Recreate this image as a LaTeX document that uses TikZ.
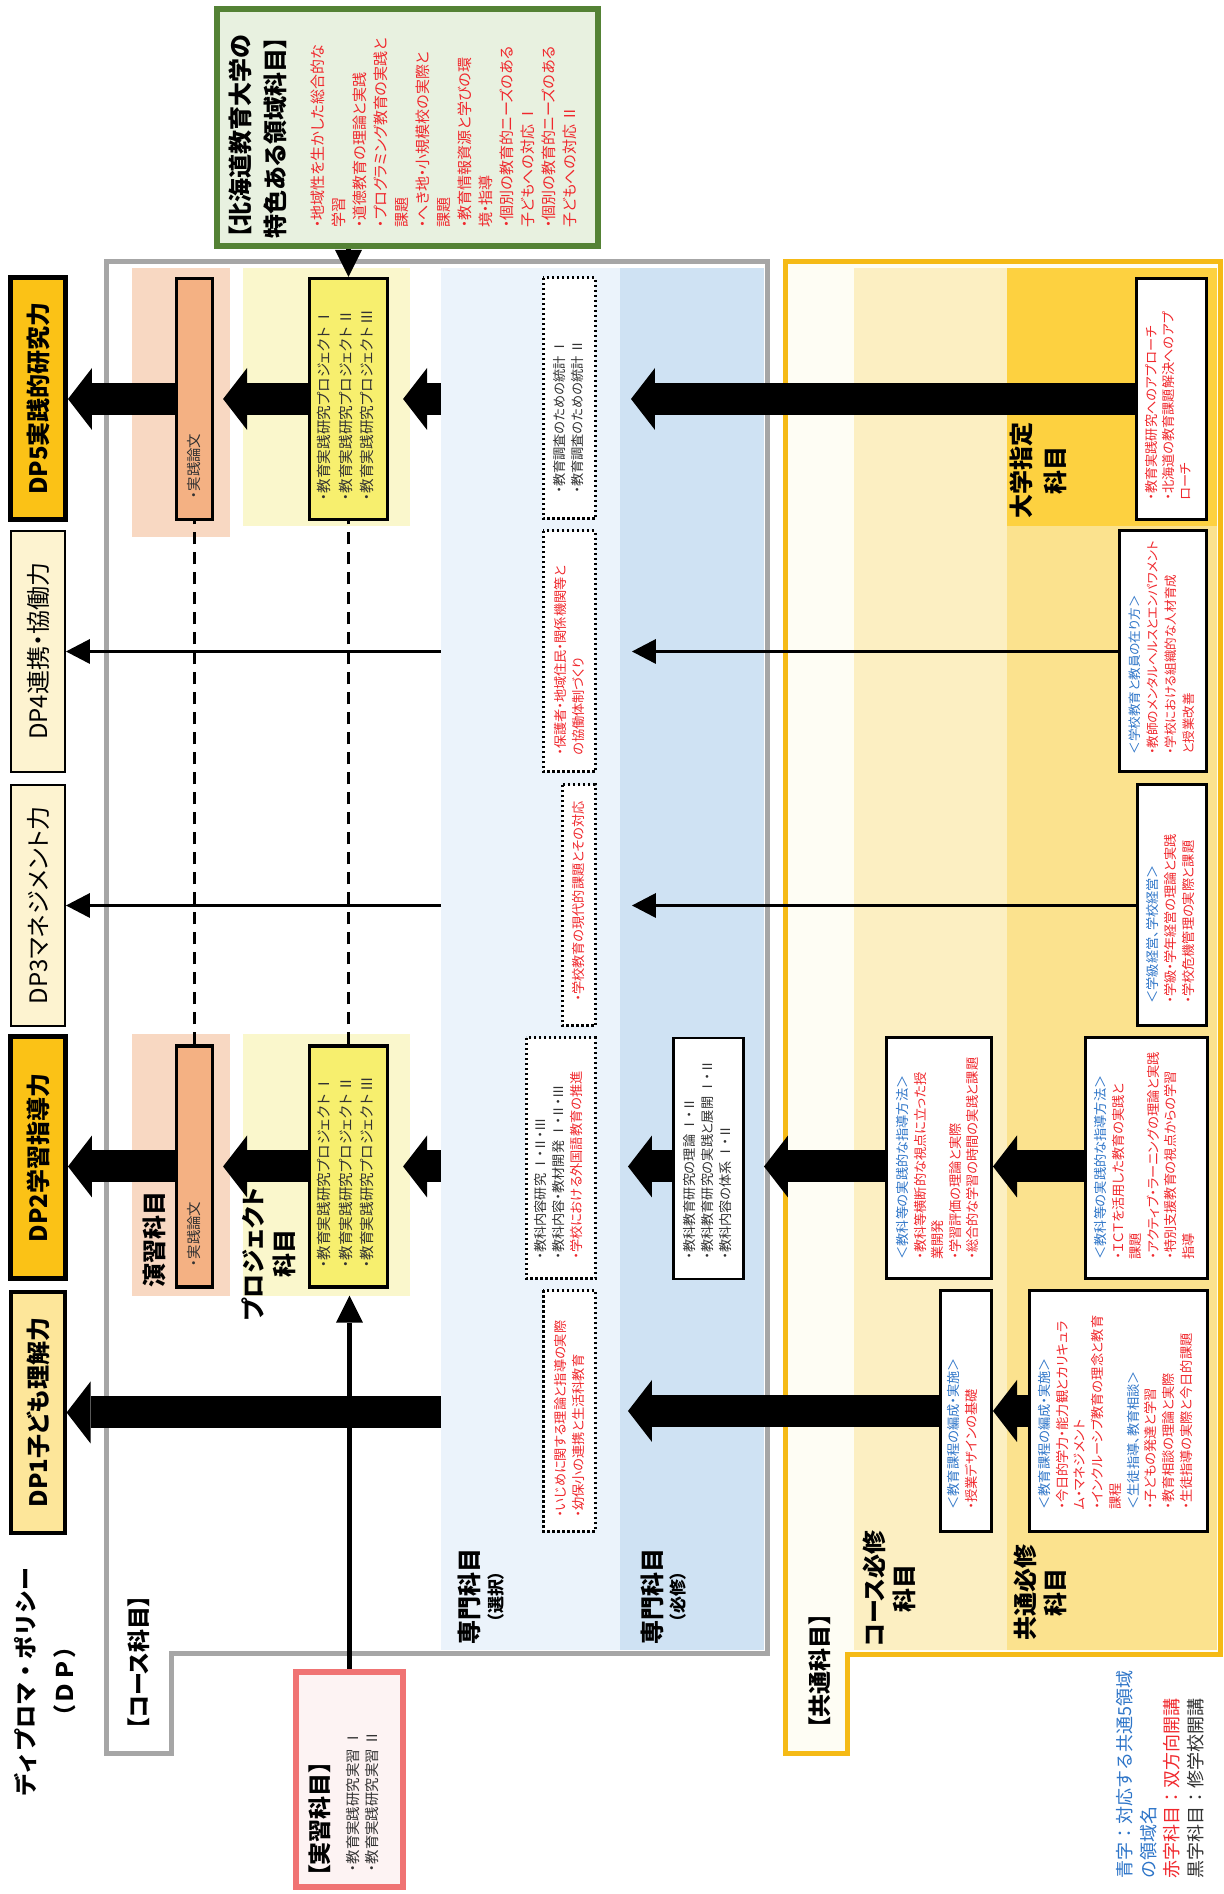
\documentclass[tikz,border=0pt]{standalone}
\usepackage{fontspec}
\setmainfont{Noto Sans CJK JP}[RawFeature=+palt]
\newfontfamily\fullw{Noto Sans CJK JP}
\usetikzlibrary{arrows.meta}

\definecolor{dpgold}{RGB}{251,194,22}
\definecolor{dpcream}{RGB}{253,243,208}
\definecolor{dpyellow}{RGB}{253,230,154}
\definecolor{peachbg}{RGB}{248,216,194}
\definecolor{orangebox}{RGB}{244,177,131}
\definecolor{projbg}{RGB}{250,247,204}
\definecolor{projbox}{RGB}{247,239,110}
\definecolor{senbg}{RGB}{235,243,251}
\definecolor{hisbg}{RGB}{207,226,243}
\definecolor{framegray}{RGB}{166,166,166}
\definecolor{framegold}{RGB}{245,186,22}
\definecolor{creamA}{RGB}{254,253,244}
\definecolor{creamB}{RGB}{252,239,194}
\definecolor{goldA}{RGB}{251,226,142}
\definecolor{goldB}{RGB}{253,209,64}
\definecolor{greenline}{RGB}{84,130,53}
\definecolor{greenbg}{RGB}{232,241,224}
\definecolor{redline}{RGB}{240,115,115}
\definecolor{pinkbg}{RGB}{253,243,243}
\definecolor{tred}{RGB}{240,40,45}
\definecolor{tblue}{RGB}{46,117,200}
\definecolor{tgray}{RGB}{50,50,50}

\tikzset{
  dpbox/.style={draw, line width=1pt, fill=dpcream, minimum width=120.5pt, minimum height=27pt, inner sep=0pt, font=\fontsize{12}{14}\selectfont},
  dpkey/.style={dpbox, line width=2.5pt, fill=dpgold, minimum width=121pt, minimum height=27.5pt, font=\fontsize{12}{14}\selectfont\bfseries},
  band/.style={inner sep=0pt, outer sep=0pt, minimum width=691pt},
  colbox/.style={draw, line width=1.6pt, minimum width=120.5pt, inner sep=0pt},
  dotbox/.style={draw, fill=white, line width=1.5pt, dash pattern=on 1.2pt off 1.3pt, minimum width=120.5pt, inner sep=0pt},
  wbox/.style={draw, fill=white, line width=1.5pt, minimum width=120.5pt, inner sep=0pt},
  txt/.style={anchor=north west, inner sep=0pt, align=left, font=\fontsize{6.6}{9}\selectfont},
  lbl/.style={inner sep=0pt, align=center, font=\fontsize{12}{15}\selectfont\bfseries},
  flow/.style={line width=16pt, -{Triangle[width=31pt,length=12pt,line width=0pt]}},
  link/.style={line width=1.5pt, -{Triangle[width=12.5pt,length=12pt,line width=0pt]}},
  feed/.style={line width=2.5pt, -{Triangle[width=13.5pt,length=13.5pt,line width=0pt]}},
  guide/.style={line width=1.5pt, dash pattern=on 6pt off 4pt},
}

\begin{document}
\begin{tikzpicture}[x=0.5pt, y=0.5pt, rotate=90, transform shape]
\useasboundingbox (0,0) rectangle (1894,1224);

\node[band, fill=senbg, minimum height=89.5pt] (senS) at (935,693.5) {};
\node[band, fill=hisbg, minimum height=72pt] (senR) at (935,532) {};
\fill[peachbg] (1357,994) rectangle (1626,1092);
\fill[peachbg] (598,994) rectangle (860,1092);
\fill[projbg] (1368,814) rectangle (1626,981);
\fill[projbg] (598,814) rectangle (860,981);
\draw[framegray, line width=2.5pt] (1632,1117) -- (1632,456) -- (240,456) -- (240,1052) -- (140,1052) -- (140,1117) -- cycle;

\fill[creamA] (1632,438) -- (1632,4) -- (239,4) -- (239,376) -- (140,376) -- (140,438) -- cycle;
\fill[creamB] (244,217) rectangle (1626,370);
\fill[goldA] (244,7) rectangle (1626,217);
\fill[goldB] (1368,7) rectangle (1626,217);
\draw[framegold, line width=2.5pt] (1632,438) -- (1632,4) -- (239,4) -- (239,376) -- (140,376) -- (140,438) -- cycle;

\node[dpkey] (dp5) at (1495.5,1186) {DP5実践的研究力};
\node[dpbox] (dp4) at (1242.5,1186) {DP4連携・協働力};
\node[dpbox] (dp3) at (988.5,1186) {DP3マネジメント力};
\node[dpkey] (dp2) at (736,1186) {DP2学習指導力};
\node[dpbox, fill=dpyellow, line width=1.6pt, font=\fontsize{12}{14}\selectfont\bfseries] (dp1) at (481.5,1186) {DP1子ども理解力};
\node[lbl, font=\fullw\fontsize{11.5}{19.5}\selectfont\bfseries] (dptitle) at (212,1179) {ディプロマ・ポリシー\\（ＤＰ）};

\node[colbox, fill=orangebox, minimum height=18pt] (ens5) at (1495,1029.5) {};
\node[colbox, fill=orangebox, minimum height=18pt] (ens2) at (727.5,1029.5) {};
\node[colbox, fill=projbox, minimum height=39pt] (proj5) at (1495,875.5) {};
\node[colbox, fill=projbox, minimum height=39pt] (proj2) at (727.5,875.5) {};
\node[txt, anchor=west, font=\fontsize{7.2}{9}\selectfont, text=tgray] at (1395,1029.5) {・実践論文};
\node[txt, anchor=west, font=\fontsize{7.2}{9}\selectfont, text=tgray] at (627,1029.5) {・実践論文};
\node[txt, font=\fontsize{7.3}{10.75}\selectfont, text=tgray] at (1393,907) {・教育実践研究プロジェクト Ⅰ\\・教育実践研究プロジェクト Ⅱ\\・教育実践研究プロジェクト Ⅲ};
\node[txt, font=\fontsize{7.3}{10.75}\selectfont, text=tgray] at (626,907) {・教育実践研究プロジェクト Ⅰ\\・教育実践研究プロジェクト Ⅱ\\・教育実践研究プロジェクト Ⅲ};
\node[lbl, anchor=west] at (606,1070) {演習科目};
\node[lbl, font=\fontsize{12}{15.5}\selectfont\bfseries] at (640,955) {プロジェクト\\科目};
\node[lbl, anchor=west, font=\fontsize{11.5}{14}\selectfont\bfseries] at (164,1085.5) {【コース科目】};

\node[dotbox, minimum height=26pt] (stat) at (1495.5,654.5) {};
\node[txt, text=tgray] at (1400,671) {・教育調査のための統計 Ⅰ\\・教育調査のための統計 Ⅱ};
\node[dotbox, minimum height=26pt] (kyodo) at (1242.5,654.5) {};
\node[txt, text=tred] at (1138,670) {・保護者・地域住民・関係機関等と\\の協働体制づくり};
\node[dotbox, minimum height=16.5pt] (gendai) at (988.5,645) {};
\node[txt, text=tred] at (892,652) {・学校教育の現代的課題とその対応};
\node[dotbox, minimum height=34.5pt] (naiyo) at (735.5,663) {};
\node[txt, text=tgray] at (634,690) {・教科内容研究 Ⅰ・Ⅱ・Ⅲ\\・教科内容・教材開発 Ⅰ・Ⅱ・Ⅲ\\\textcolor{tred}{・学校における外国語教育の推進}};
\node[dotbox, minimum height=26pt] (ijime) at (483,654.5) {};
\node[txt, text=tred] at (376,670) {・いじめに関する理論と指導の実際\\・幼保小の連携と生活科教育};
\node[wbox, line width=1.3pt, minimum height=35pt] (kyoka) at (735.5,515.5) {};
\node[txt, text=tgray] at (634,541) {・教科教育研究の理論 Ⅰ・Ⅱ\\・教科教育研究の実践と展開 Ⅰ・Ⅱ\\・教科内容の体系 Ⅰ・Ⅱ};
\node[lbl] at (297,755) {専門科目};
\node[lbl, font=\fontsize{8.5}{10}\selectfont\bfseries] at (297,728) {（選択）};
\node[lbl] at (297,572) {専門科目};
\node[lbl, font=\fontsize{8.5}{10}\selectfont\bfseries] at (297,546) {（必修）};

\node[wbox, minimum height=35pt] (approach) at (1495,52.5) {};
\node[txt, text=tred, font=\fontsize{6.6}{8.5}\selectfont] at (1393,79) {・教育実践研究へのアプローチ\\・北海道の教育課題解決へのアプ\\ローチ};
\node[wbox, minimum height=43.5pt] (kyoin) at (1242.5,61) {};
\node[txt, text=tred, font=\fontsize{6.3}{9}\selectfont] at (1139,96) {\textcolor{tblue}{＜学校教育と教員の在り方＞}\\・教師のメンタルヘルスとエンパワメント\\・学校における組織的な人材育成\\と授業改善};
\node[wbox, minimum height=34.5pt] (keiei) at (988.5,52) {};
\node[txt, text=tred] at (890,78) {\textcolor{tblue}{＜学級経営、学校経営＞}\\・学級・学年経営の理論と実践\\・学校危機管理の実際と課題};
\node[wbox, minimum height=52.5pt] (shidoA) at (735.5,285) {};
\node[txt, text=tred, font=\fontsize{6.6}{8.75}\selectfont] at (634,328) {\textcolor{tblue}{＜教科等の実践的な指導方法＞}\\・教科等横断的な視点に立った授\\業開発\\・学習評価の理論と実際\\・総合的な学習の時間の実践と課題};
\node[wbox, minimum height=61pt] (shidoB) at (735.5,77.5) {};
\node[txt, text=tred, font=\fontsize{6.6}{8.75}\selectfont] at (634,130) {\textcolor{tblue}{＜教科等の実践的な指導方法＞}\\・ＩＣＴを活用した教育の実践と\\課題\\・アクティブ・ラーニングの理論と実践\\・特別支援教育の視点からの学習\\指導};
\node[wbox, minimum height=25.5pt] (kateiA) at (483,258) {};
\node[txt, text=tred] at (384,277) {\textcolor{tblue}{＜教育課程の編成・実施＞}\\・授業デザインの基礎};
\node[wbox, minimum height=89pt] (kateiB) at (483,105.5) {};
\node[txt, text=tred, font=\fontsize{6.6}{8.85}\selectfont] at (384,186) {\textcolor{tblue}{＜教育課程の編成・実施＞}\\・今日的学力・能力観とカリキュラ\\ム・マネジメント\\・インクルーシブ教育の理念と教育\\課程\\\textcolor{tblue}{＜生徒指導、教育相談＞}\\・子どもの発達と学習\\・教育相談の理論と実際\\・生徒指導の実際と今日的課題};
\node[lbl, font=\fontsize{12}{17}\selectfont\bfseries] at (1423,186) {大学指定\\科目};
\node[lbl] at (305,335) {コース必修\\科目};
\node[lbl] at (301,184) {共通必修\\科目};
\node[lbl, anchor=west, font=\fontsize{11.5}{14}\selectfont\bfseries] at (165,404.5) {【共通科目】};

\node[draw=greenline, fill=greenbg, line width=2.8pt, minimum width=118.75pt, minimum height=190.5pt, inner sep=0pt] (tokushoku) at (1766.5,816.5) {};
\node[txt, font=\fontsize{12}{17.5}\selectfont\bfseries] at (1655,996) {【北海道教育大学の\\特色ある領域科目】};
\node[txt, text=tred, font=\fontsize{7.5}{10.5}\selectfont] at (1666,914) {・地域性を生かした総合的な\\学習\\・道徳教育の理論と実践\\・プログラミング教育の実践と\\課題\\・へき地・小規模校の実際と\\課題\\・教育情報資源と学びの環\\境・指導\\・個別の教育的ニーズのある\\子どもへの対応 Ⅰ\\・個別の教育的ニーズのある\\子どもへの対応 Ⅱ};

\node[draw=redline, fill=pinkbg, line width=2.8pt, minimum width=107.75pt, minimum height=53.75pt, inner sep=0pt] (jisshu) at (114.5,874.5) {};
\node[txt, font=\fontsize{11.5}{14}\selectfont\bfseries] at (17,916) {【実習科目】};
\node[txt, text=tgray, font=\fontsize{7.2}{9.5}\selectfont] at (22,878) {・教育実践研究実習 Ⅰ\\・教育実践研究実習 Ⅱ};

\node[txt, font=\fullw\fontsize{9}{11.75}\selectfont] (legend) at (15,108) {\textcolor{tblue}{青字：対応する共通5領域}\\\textcolor{tblue}{の領域名}\\\textcolor{tred}{赤字科目：双方向開講}\\\textcolor{tgray}{黒字科目：修学校開講}};

\draw[guide] (ens2.east) -- (ens5.west);
\draw[guide] (proj2.east) -- (proj5.west);

\draw[flow] (ens5.north) -- (ens5.north |- dp5.south);
\draw[flow, shorten >=4.5pt] (proj5.north) -- (ens5.south);
\draw[flow, shorten >=7pt] (senS.north -| proj5) -- (proj5.south);
\draw[flow, shorten >=5.5pt] (approach.north) -- (senR.north -| approach);

\draw[link] (senS.north -| dp4) -- (dp4.south);
\draw[link, shorten >=6pt] (kyoin.north) -- (senR.north -| kyoin);
\draw[link] (senS.north -| dp3) -- (dp3.south);
\draw[link, shorten >=6pt] (keiei.north) -- (senR.north -| keiei);

\draw[flow] (ens2.north) -- (ens2.north |- dp2.south);
\draw[flow, shorten >=4.5pt] (proj2.north) -- (ens2.south);
\draw[flow, shorten >=7pt] (senS.north -| proj2) -- (proj2.south);
\draw[flow, shorten >=4pt] (kyoka.north -| proj2) -- (senR.north -| proj2);
\draw[flow] (shidoA.north -| proj2) -- (senR.south -| proj2);
\draw[flow] (shidoB.north -| proj2) -- (shidoA.south -| proj2);

\draw[flow] (senS.north -| dp1) -- (dp1.south);
\draw[flow, shorten >=4pt] (kateiA.north) -- (senR.north -| kateiA);
\draw[flow] (kateiB.north) -- (kateiA.south);

\draw[feed] (tokushoku.west |- proj5.east) -- (proj5.east);
\draw[feed, shorten >=3.5pt] (jisshu.east) -- (jisshu.east -| proj2.west);
\end{tikzpicture}
\end{document}
